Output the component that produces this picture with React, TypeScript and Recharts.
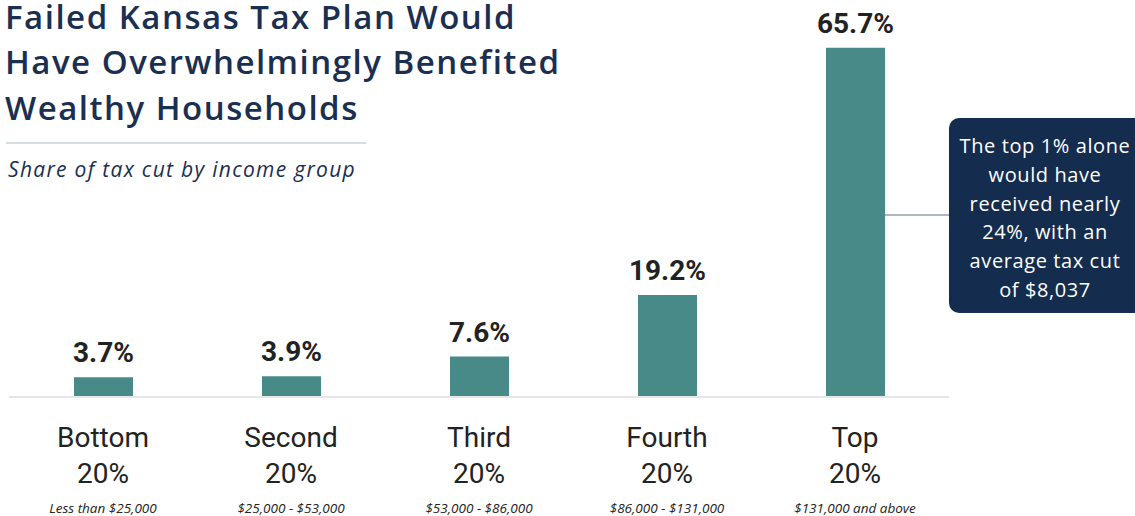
import React from 'react';
import { BarChart, Bar, XAxis, YAxis, LabelList } from 'recharts';

const categories = ['Bottom', 'Second', 'Third', 'Fourth', 'Top'];
const shares = [3.7, 3.9, 7.6, 19.2, 65.7];
const groupLabels = ['20%', '20%', '20%', '20%', '20%'];
const incomeRanges = [
  'Less than $25,000',
  '$25,000 - $53,000',
  '$53,000 - $86,000',
  '$86,000 - $131,000',
  '$131,000 and above',
];
const titleLines = [
  'Failed Kansas Tax Plan Would',
  'Have Overwhelmingly Benefited',
  'Wealthy Households',
];
const subtitle = 'Share of tax cut by income group';
const calloutLines = [
  'The top 1% alone',
  'would have',
  'received nearly',
  '24%, with an',
  'average tax cut',
  'of $8,037',
];

const data = categories.map((c, i) => ({
  category: c,
  share: shares[i],
  group: groupLabels[i],
  range: incomeRanges[i],
}));

const NAVY = '#1b2f50';
const TEAL = '#488a88';
const DARK = '#222222';

const CategoryTick = (props: any) => {
  const { x, y, payload, index } = props;
  const d = data[index] || data.find((r) => r.category === payload.value);
  return (
    <g transform={`translate(${x},${y})`}>
      <text x={0} y={50} textAnchor="middle" fontFamily="Roboto" fontSize={28} fill={DARK}>
        {payload.value}
      </text>
      <text x={0} y={86} textAnchor="middle" fontFamily="Roboto" fontSize={28} fill={DARK}>
        {d ? d.group : ''}
      </text>
      <text x={0} y={116} textAnchor="middle" fontFamily="'Open Sans'" fontStyle="italic" fontSize={13.5} fill={DARK}>
        {d ? d.range : ''}
      </text>
    </g>
  );
};

const ValueLabel = (props: any) => {
  const { x, y, width, value } = props;
  return (
    <text
      x={Number(x) + Number(width) / 2}
      y={Number(y) - 15}
      textAnchor="middle"
      fontFamily="Roboto"
      fontWeight={700}
      fontSize={28}
      fill={DARK}
    >
      {`${value}%`}
    </text>
  );
};

export default function App() {
  return (
    <div style={{ position: 'absolute', left: 0, top: 0, width: 1135, height: 516, background: '#fff' }}>
      <BarChart
        width={1135}
        height={516}
        data={data}
        margin={{ top: 25, right: 186, bottom: 0, left: 9 }}
      >
        <XAxis
          dataKey="category"
          axisLine={{ stroke: '#e6e6e6', strokeWidth: 2 }}
          tickLine={false}
          tickSize={0}
          tickMargin={0}
          tick={<CategoryTick />}
          interval={0}
          height={119}
        />
        <YAxis hide domain={[0, 70]} />
        <Bar dataKey="share" fill={TEAL} barSize={59} isAnimationActive={false}>
          <LabelList dataKey="share" content={<ValueLabel />} />
        </Bar>
      </BarChart>
      <svg
        width={1135}
        height={516}
        style={{ position: 'absolute', left: 0, top: 0, pointerEvents: 'none' }}
      >
        {titleLines.map((t, i) => (
          <text
            key={i}
            x={5}
            y={28.5 + i * 45.5}
            fontFamily="'Open Sans'"
            fontWeight={600}
            fontSize={33}
            letterSpacing={1.5}
            fill={NAVY}
          >
            {t}
          </text>
        ))}
        <line x1={6} x2={366} y1={143} y2={143} stroke="#c9d0da" strokeWidth={1.5} />
        <text
          x={8}
          y={177}
          fontFamily="'Open Sans'"
          fontStyle="italic"
          fontSize={21}
          letterSpacing={1.3}
          fill={NAVY}
        >
          {subtitle}
        </text>
        <line x1={884} x2={949} y1={215} y2={215} stroke="#5d6f8c" strokeWidth={1.2} />
        <rect x={949} y={118} width={200} height={195} rx={10} ry={10} fill="#142c4e" />
        {calloutLines.map((t, i) => (
          <text
            key={i}
            x={1045}
            y={153 + i * 28.8}
            textAnchor="middle"
            fontFamily="'Open Sans'"
            fontWeight={500}
            fontSize={20}
            letterSpacing={0.6}
            fill="#ffffff"
          >
            {t}
          </text>
        ))}
      </svg>
    </div>
  );
}
